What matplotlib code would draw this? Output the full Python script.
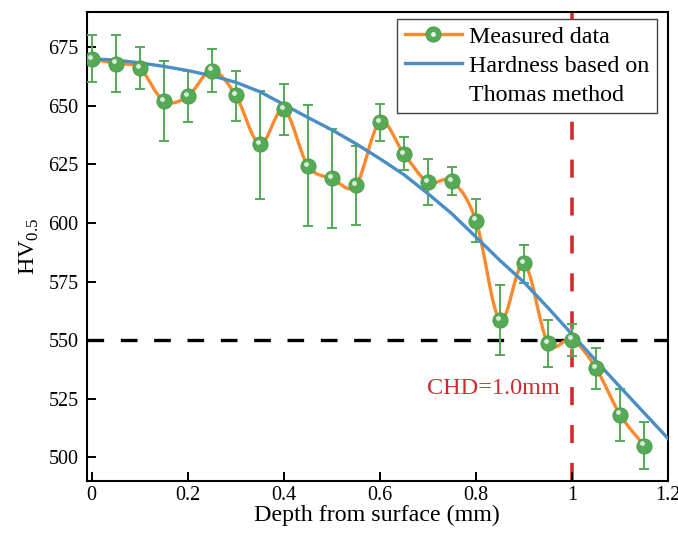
import numpy as np
import matplotlib.pyplot as plt
from matplotlib.path import Path
from matplotlib.patches import PathPatch
from matplotlib.transforms import offset_copy
from matplotlib.lines import Line2D

plt.rcParams['font.family'] = ['Liberation Serif', 'DejaVu Serif']
plt.rcParams['mathtext.fontset'] = 'custom'
plt.rcParams['mathtext.rm'] = 'Liberation Serif'

# measured hardness
depth = [0, 0.05, 0.1, 0.15, 0.2, 0.25, 0.3, 0.35, 0.4, 0.45, 0.5, 0.55,
         0.6, 0.65, 0.7, 0.75, 0.8, 0.85, 0.9, 0.95, 1.0, 1.05, 1.1, 1.15]
hv = [670, 668, 666, 652, 654, 665, 654.4, 633.6, 648.4, 624.4, 619, 616,
      643, 629.5, 617.4, 617.8, 601, 558.5, 582.7, 548.7, 550.2, 538, 518.2, 505]
hv_hi = [680, 680, 675, 669, 665, 674, 665, 656.4, 659.4, 650.4, 640.2, 633,
         650.8, 636.6, 627.4, 623.8, 610, 573.3, 590.6, 558.4, 557, 546.8, 529, 515]
hv_lo = [660, 656, 657, 635, 643, 656, 643.5, 610.3, 637.3, 598.5, 597.8, 599,
         635, 622.4, 607.5, 612, 592, 543.5, 574.5, 538.5, 543.2, 529, 507, 495]

# Thomas method curve
th_depth = [0, 0.05, 0.1, 0.15, 0.2, 0.25, 0.3, 0.35, 0.4, 0.45, 0.5, 0.55, 0.6,
            0.65, 0.7, 0.75, 0.8, 0.85, 0.9, 0.95, 1.0, 1.05, 1.1, 1.15, 1.2]
th_hv = [670, 669.5, 668.3, 666.8, 665, 662.8, 660, 656, 650.5, 645, 639.7, 633.8, 627.4,
         620.6, 612.5, 603.9, 594, 584, 574.7, 563.8, 552.5, 541.2, 530, 519, 508]

chd = 1.0
hv_limit = 550

orange = '#fb8a2e'
blue = '#4a8ec6'
green = '#55aa55'
red = '#d42a2f'


def smooth_path(xs, ys):
    # cubic bezier through the points (catmull-rom tangents), like Origin's spline connect
    p = np.column_stack([xs, ys]).astype(float)
    n = len(p)
    t = np.zeros_like(p)
    t[1:-1] = (p[2:] - p[:-2]) / 2
    t[0] = p[1] - p[0]
    t[-1] = p[-1] - p[-2]
    verts = [p[0]]
    codes = [Path.MOVETO]
    for i in range(n - 1):
        verts += [p[i] + t[i] / 3, p[i + 1] - t[i + 1] / 3, p[i + 1]]
        codes += [Path.CURVE4] * 3
    return Path(verts, codes)


fig = plt.figure(figsize=(6.78, 5.37), dpi=100)
ax = fig.add_axes([0.1279, 0.1048, 0.8574, 0.8729])

ax.axhline(hv_limit, color='black', lw=2.4, ls=(0, (5, 5)), zorder=1)
ax.axvline(chd, color=red, lw=2.6, ls=(0, (5, 5.5)), zorder=1)

ax.add_patch(PathPatch(smooth_path(depth, hv), fill=False, edgecolor=orange, lw=2.4, zorder=2))
ax.plot(th_depth, th_hv, color=blue, lw=2.4, zorder=4)

yerr = [np.array(hv) - np.array(hv_lo), np.array(hv_hi) - np.array(hv)]
ax.errorbar(depth, hv, yerr=yerr, fmt='none', ecolor=green, elinewidth=1.4,
            capsize=3.5, capthick=1.4, zorder=3)
ax.plot(depth, hv, 'o', ms=11, mfc=green, mec='#4a9a4a', mew=0.6, zorder=5)
hl = offset_copy(ax.transData, fig=fig, x=-1.2, y=1.6, units='points')
ax.plot(depth, hv, 'o', ms=3.5, mfc='#e8f4e8', mec='none', alpha=0.9, transform=hl, zorder=6)

ax.text(0.975, 529.5, 'CHD=1.0mm', color=red, fontsize=17.5, ha='right', va='center')

ax.set_xlim(-0.0104, 1.2)
ax.set_ylim(490, 690)
ax.set_xticks([0, 0.2, 0.4, 0.6, 0.8, 1.0, 1.2])
ax.set_xticklabels(['0', '0.2', '0.4', '0.6', '0.8', '1', '1.2'])
ax.set_yticks([500, 525, 550, 575, 600, 625, 650, 675])
ax.tick_params(direction='in', length=6.5, width=1.4, labelsize=14.5)
ax.tick_params(axis='x', pad=4)
ax.tick_params(axis='y', pad=6)
for s in ax.spines.values():
    s.set_linewidth(1.5)
ax.set_xlabel('Depth from surface (mm)', fontsize=17.3, labelpad=0)
ax.set_ylabel('HV$_{0.5}$', fontsize=17.3, labelpad=5)

h1 = (Line2D([], [], color=orange, lw=2.4, marker='o', ms=11, mfc=green, mec='#4a9a4a', mew=0.6),
      Line2D([], [], ls='none', marker='o', ms=3.5, mfc='#e8f4e8', mec='none'))
h2 = Line2D([], [], color=blue, lw=2.4)
h3 = Line2D([], [], color='none')
leg = ax.legend([h1, h2, h3], ['Measured data', 'Hardness based on', 'Thomas method'],
                loc='upper right', bbox_to_anchor=(0.981, 0.986), fontsize=17.3,
                handlelength=2.4, handletextpad=0.3, labelspacing=0.3,
                borderpad=0.3, borderaxespad=0, fancybox=False, framealpha=1)
leg.get_frame().set_edgecolor('#444444')
leg.get_frame().set_linewidth(1.0)

fig.savefig('out.png', dpi=100)
